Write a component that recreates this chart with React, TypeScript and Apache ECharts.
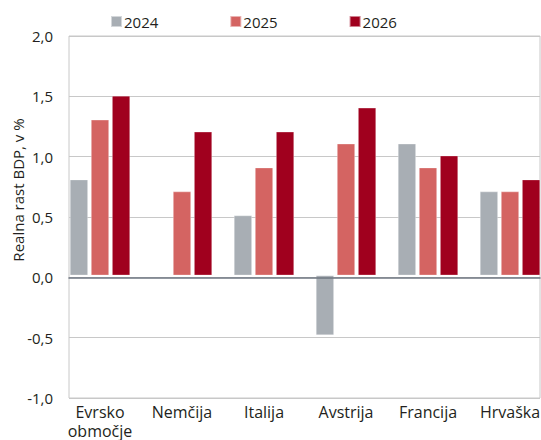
import React, { useEffect, useRef } from "react";
import * as echarts from "echarts";

const categories = ["Evrsko\nobmočje", "Nemčija", "Italija", "Avstrija", "Francija", "Hrvaška"];
const seriesNames = ["2024", "2025", "2026"];
const values2024 = [0.8, null, 0.5, -0.5, 1.1, 0.7];
const values2025 = [1.3, 0.7, 0.9, 1.1, 0.9, 0.7];
const values2026 = [1.5, 1.2, 1.2, 1.4, 1.0, 0.8];
const colors = ["#a8aeb4", "#d46462", "#a0001e"];
const yAxisTitle = "Realna rast BDP, v %";
const yMin = -1;
const yMax = 2;
const yInterval = 0.5;

const FONT = "'Open Sans', 'Noto Sans', sans-serif";
const TEXT = "#231f20";

export default function App() {
  const ref = useRef<HTMLDivElement>(null);
  useEffect(() => {
    document.body.style.margin = "0";
    document.body.style.overflow = "hidden";
    document.documentElement.style.overflow = "hidden";
    if (!ref.current) return;
    const chart = echarts.init(ref.current, undefined, { renderer: "svg" });
    const allValues = [values2024, values2025, values2026];
    const fmt = (v: number) => v.toFixed(1).replace(".", ",");
    chart.setOption({
      animation: false,
      textStyle: { fontFamily: FONT, color: TEXT },
      legend: {
        data: seriesNames,
        left: 110,
        top: 14,
        padding: 0,
        itemWidth: 11,
        itemHeight: 11,
        itemGap: 71,
        icon: "rect",
        textStyle: { fontSize: 15, color: TEXT, fontFamily: FONT, padding: [0, 0, 0, -3] },
      },
      grid: [
        { left: 69, width: 471, top: 36, height: 362, show: true, borderColor: "#c8c8c8", borderWidth: 1, containLabel: false },
        { left: 59, width: 492, top: 36, height: 362, containLabel: false },
      ],
      xAxis: [
        {
          type: "category",
          gridIndex: 0,
          data: categories,
          axisLine: { show: true, onZero: true, lineStyle: { color: "#6e7681", width: 1.5 } },
          axisTick: { show: false },
          axisLabel: { show: false },
          splitLine: { show: false },
          z: 5,
        },
        {
          type: "category",
          gridIndex: 1,
          data: categories,
          axisLine: { show: false, onZero: false },
          axisTick: { show: false },
          axisLabel: { show: true, fontSize: 16, color: TEXT, fontFamily: FONT, margin: 7, lineHeight: 19, interval: 0 },
        },
      ],
      yAxis: [
        {
          type: "value",
          gridIndex: 0,
          min: yMin,
          max: yMax,
          interval: yInterval,
          axisLine: { show: false },
          axisTick: { show: false },
          axisLabel: { fontSize: 15, color: TEXT, fontFamily: FONT, margin: 16, formatter: fmt },
          splitLine: { show: true, lineStyle: { color: "#c8c8c8", width: 1 } },
        },
        {
          type: "value",
          gridIndex: 1,
          min: yMin,
          max: yMax,
          interval: yInterval,
          show: false,
          splitLine: { show: false },
        },
      ],
      graphic: [
        {
          type: "text",
          x: 18,
          y: 190,
          rotation: Math.PI / 2,
          style: {
            text: yAxisTitle,
            fontSize: 15,
            fontFamily: FONT,
            fill: TEXT,
            textAlign: "center",
            textVerticalAlign: "middle",
          },
        },
      ],
      series: seriesNames.map((name, i) => ({
        name,
        type: "bar",
        xAxisIndex: 1,
        yAxisIndex: 1,
        data: allValues[i],
        barWidth: 18,
        barGap: "17%",
        itemStyle: { color: colors[i], borderColor: "rgba(255,255,255,0.5)", borderWidth: 0.6 },
      })),
    });
    return () => chart.dispose();
  }, []);
  return <div ref={ref} style={{ width: 570, height: 440 }} />;
}
